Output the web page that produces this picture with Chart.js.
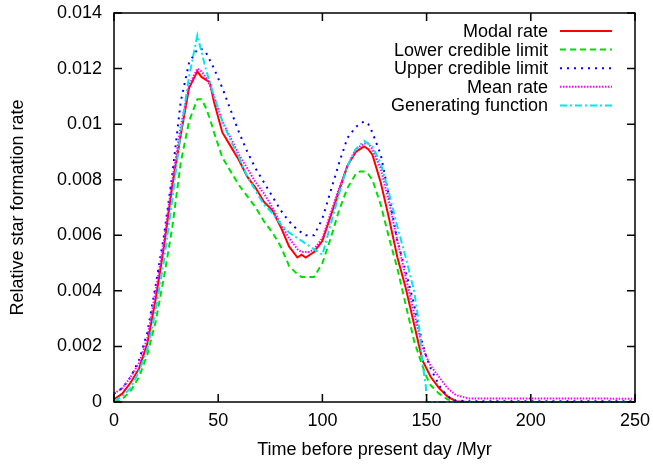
<!DOCTYPE html>
<html>
<head>
<meta charset="utf-8">
<script src="https://cdn.jsdelivr.net/npm/chart.js@4.4.0/dist/chart.umd.min.js"></script>
<style>
  html, body { margin: 0; padding: 0; background: #fff; }
  canvas { display: block; }
</style>
</head>
<body>
<canvas id="sfr" width="653" height="464"></canvas>
<script>
// Data
var timeMyr = [0, 4, 8, 12, 16, 20, 24, 28, 32, 36, 40, 42, 44, 46, 48, 52, 56, 60, 64, 68, 72, 76, 80, 84, 88, 90, 92, 94, 96,
    100, 104, 108, 112, 116, 118, 120, 122, 124, 128, 132, 136, 140, 144, 148, 150, 152, 156, 160, 164, 170, 250];

var modalRate = [0.0001, 0.0003, 0.0007, 0.0012, 0.0021, 0.0037, 0.0056, 0.0078, 0.0096, 0.0113, 0.0119, 0.0117, 0.0116, 0.0115,
    0.0108, 0.0097, 0.0092, 0.0087, 0.0081, 0.0077, 0.0072, 0.0069, 0.0063, 0.0056, 0.0052, 0.0053, 0.0052, 0.0053, 0.0054,
    0.0058, 0.0067, 0.0076, 0.0085, 0.0090, 0.0091, 0.0092, 0.0091, 0.0089, 0.0079, 0.0066, 0.0052, 0.0041, 0.0028, 0.0015,
    0.0012, 0.0009, 0.0005, 0.0002, 0.00003, 0, 0];

var lowerLimit = [0, 0.0001, 0.0004, 0.0009, 0.0017, 0.0029, 0.0045, 0.0063, 0.0086, 0.0101, 0.0109, 0.0109, 0.0106, 0.0102,
    0.0097, 0.0088, 0.0083, 0.0078, 0.0074, 0.0070, 0.0065, 0.0061, 0.0056, 0.0049, 0.0046, 0.0045, 0.0045, 0.0045, 0.0045,
    0.0050, 0.0059, 0.0069, 0.0077, 0.0082, 0.0083, 0.0083, 0.0082, 0.0080, 0.0071, 0.0059, 0.0048, 0.0035, 0.0022, 0.0013,
    0.0009, 0.0006, 0.0003, 0.0001, 0, 0, 0];

var upperLimit = [0.0003, 0.0005, 0.0009, 0.0015, 0.0025, 0.0042, 0.0060, 0.0082, 0.0108, 0.0122, 0.0127, 0.0127, 0.0126, 0.0123,
    0.0120, 0.0113, 0.0105, 0.0097, 0.0090, 0.0084, 0.0079, 0.0074, 0.0069, 0.0065, 0.0062, 0.0061, 0.0060, 0.0060, 0.0060,
    0.0066, 0.0076, 0.0086, 0.0095, 0.0099, 0.0100, 0.0101, 0.0100, 0.0097, 0.0089, 0.0074, 0.0058, 0.0047, 0.0035, 0.0021,
    0.0016, 0.0012, 0.0006, 0.0002, 0.00005, 0.00003, 0.00003];

var meanRate = [0.0003, 0.0005, 0.0009, 0.0014, 0.0023, 0.0040, 0.0058, 0.0080, 0.0099, 0.0114, 0.0120, 0.0119, 0.0117, 0.0114,
    0.0110, 0.0101, 0.0095, 0.0089, 0.0084, 0.0079, 0.0075, 0.0070, 0.0064, 0.0059, 0.0055, 0.0054, 0.0054, 0.0054, 0.0055,
    0.0059, 0.0068, 0.0077, 0.0085, 0.0091, 0.0092, 0.0093, 0.0093, 0.0091, 0.0084, 0.0072, 0.0058, 0.0045, 0.0032, 0.0020,
    0.0016, 0.0013, 0.0009, 0.0005, 0.00025, 0.00013, 0.00012];

var genTime = [0, 4, 8, 12, 16, 20, 24, 28, 32, 36, 40, 44, 48, 52, 56, 60, 64, 68, 72, 76, 80, 84, 88, 92, 96, 100,
    104, 108, 112, 116, 120, 124, 128, 132, 136, 140, 144, 146, 148, 149.6, 150, 250];
var genFunction = [0.00003, 0.0002, 0.0005, 0.0011, 0.0019, 0.0033, 0.0051, 0.0073, 0.0097, 0.0117, 0.0132, 0.0120, 0.0110,
    0.0101, 0.0094, 0.0088, 0.0081, 0.0076, 0.0071, 0.0068, 0.0064, 0.0061, 0.0059, 0.0057, 0.0055, 0.0053, 0.0064, 0.0075,
    0.0085, 0.0091, 0.0094, 0.0092, 0.0086, 0.0075, 0.0063, 0.0052, 0.0040, 0.0030, 0.0014, 0.0006, 0, 0];

var xTicks = [0, 50, 100, 150, 200, 250];
var yTicks = [0, 0.002, 0.004, 0.006, 0.008, 0.01, 0.012, 0.014];

function pairs(xs, ys) {
    return xs.map(function (x, i) { return { x: x, y: ys[i] }; });
}

var fontFamily = '"Liberation Sans", Arial, Helvetica, sans-serif';
var font = { family: fontFamily, size: 18 };

function series(label, xs, ys, color, dash, order) {
    return {
        label: label,
        data: pairs(xs, ys),
        borderColor: color,
        backgroundColor: color,
        borderWidth: 2,
        borderDash: dash,
        pointRadius: 0,
        tension: 0,
        fill: false,
        clip: 4,
        order: order
    };
}

var datasets = [
    series('Modal rate', timeMyr, modalRate, '#ff0000', [], 5),
    series('Lower credible limit', timeMyr, lowerLimit, '#00e000', [6, 4], 4),
    series('Upper credible limit', timeMyr, upperLimit, '#0000ff', [2, 5], 3),
    series('Mean rate', timeMyr, meanRate, '#ff00ff', [1.5, 1.5], 2),
    series('Generating function', genTime, genFunction, '#00e8e8', [7, 3, 2, 3], 1)
];

// gnuplot style frame, inward ticks and key
var framePlugin = {
    id: 'frame',
    afterDraw: function (chart) {
        var ctx = chart.ctx;
        var a = chart.chartArea;
        var xs = chart.scales.x, ys = chart.scales.y;
        ctx.save();
        ctx.strokeStyle = '#000';
        ctx.lineWidth = 1.5;
        ctx.strokeRect(a.left, a.top, a.right - a.left, a.bottom - a.top);
        ctx.beginPath();
        xTicks.forEach(function (v) {
            var px = xs.getPixelForValue(v);
            ctx.moveTo(px, a.bottom); ctx.lineTo(px, a.bottom - 8);
            ctx.moveTo(px, a.top); ctx.lineTo(px, a.top + 8);
        });
        yTicks.forEach(function (v) {
            var py = ys.getPixelForValue(v);
            ctx.moveTo(a.left, py); ctx.lineTo(a.left + 8, py);
            ctx.moveTo(a.right, py); ctx.lineTo(a.right - 8, py);
        });
        ctx.stroke();

        // key, top right
        ctx.font = '18px ' + fontFamily;
        ctx.textAlign = 'right';
        ctx.textBaseline = 'middle';
        chart.data.datasets.forEach(function (ds, i) {
            var y = 31 + i * 18.6;
            ctx.fillStyle = '#000';
            ctx.fillText(ds.label, 548, y + 1);
            ctx.strokeStyle = ds.borderColor;
            ctx.lineWidth = 2;
            ctx.setLineDash(ds.borderDash);
            ctx.beginPath();
            ctx.moveTo(560, y);
            ctx.lineTo(612, y);
            ctx.stroke();
        });
        ctx.restore();
    }
};

var ctx = document.getElementById('sfr').getContext('2d');
var sfrChart = new Chart(ctx, {
    type: 'line',
    data: { datasets: datasets },
    options: {
        responsive: false,
        animation: false,
        layout: { padding: { top: 13, right: 18, left: 0, bottom: 0 } },
        plugins: { legend: { display: false }, tooltip: { enabled: false } },
        scales: {
            x: {
                type: 'linear',
                min: 0,
                max: 250,
                afterFit: function (s) { s.height = 62; s.paddingLeft = 0; s.paddingRight = 0; },
                afterBuildTicks: function (s) { s.ticks = xTicks.map(function (v) { return { value: v }; }); },
                ticks: { color: '#000', font: font, padding: 8, maxRotation: 0 },
                grid: { display: false, drawTicks: false },
                border: { display: false },
                title: { display: true, text: 'Time before present day /Myr', color: '#000', font: font, padding: { bottom: 3 } }
            },
            y: {
                type: 'linear',
                min: 0,
                max: 0.014,
                afterFit: function (s) { s.width = 114; s.paddingTop = 0; s.paddingBottom = 0; },
                afterBuildTicks: function (s) { s.ticks = yTicks.map(function (v) { return { value: v }; }); },
                ticks: {
                    color: '#000',
                    font: font,
                    padding: 12,
                    callback: function (v) { return String(Number(v.toFixed(3))); }
                },
                grid: { display: false, drawTicks: false },
                border: { display: false },
                title: { display: true, text: 'Relative star formation rate', color: '#000', font: font, padding: { top: 7 } }
            }
        }
    },
    plugins: [framePlugin]
});
</script>
</body>
</html>
